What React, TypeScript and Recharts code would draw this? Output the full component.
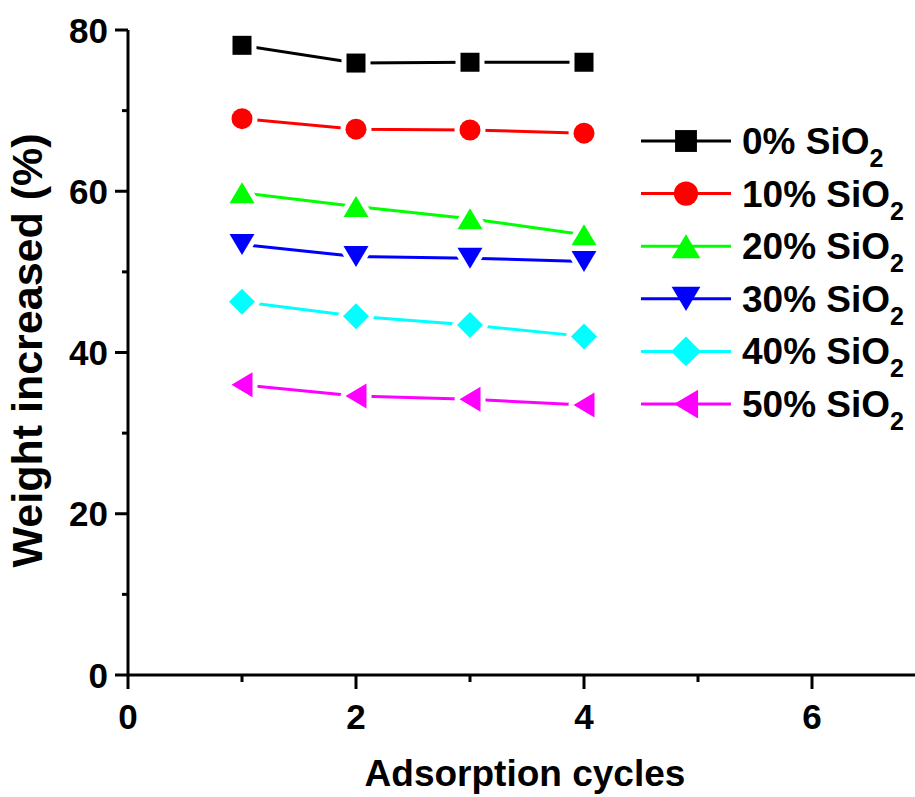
import React from "react";
import { LineChart, Line, XAxis, YAxis } from "recharts";

// adsorption cycle number
const cycles = [1, 2, 3, 4];

// weight increase (%) per SiO2 content
const sio2_0 = [78.1, 75.9, 76.0, 76.0];
const sio2_10 = [69.0, 67.7, 67.6, 67.2];
const sio2_20 = [59.8, 58.1, 56.6, 54.6];
const sio2_30 = [53.4, 51.9, 51.7, 51.3];
const sio2_40 = [46.3, 44.5, 43.4, 42.0];
const sio2_50 = [36.0, 34.6, 34.2, 33.5];

const xTicks = [0, 1, 2, 3, 4, 5, 6, 7];
const yTicks = [0, 10, 20, 30, 40, 50, 60, 70, 80];

const FONT = "Arial, 'Liberation Sans', Helvetica, sans-serif";

type Kind = "square" | "circle" | "up" | "down" | "diamond" | "left";

const series: { key: string; label: string; color: string; kind: Kind; values: number[] }[] = [
  { key: "s0", label: "0% SiO", color: "#000000", kind: "square", values: sio2_0 },
  { key: "s10", label: "10% SiO", color: "#FF0000", kind: "circle", values: sio2_10 },
  { key: "s20", label: "20% SiO", color: "#00FF00", kind: "up", values: sio2_20 },
  { key: "s30", label: "30% SiO", color: "#0000FF", kind: "down", values: sio2_30 },
  { key: "s40", label: "40% SiO", color: "#00FFFF", kind: "diamond", values: sio2_40 },
  { key: "s50", label: "50% SiO", color: "#FF00FF", kind: "left", values: sio2_50 },
];

const rows = cycles.map((c, i) => {
  const r: Record<string, number> = { cycle: c };
  series.forEach((s) => (r[s.key] = s.values[i]));
  return r;
});

function Marker({ kind, cx, cy, fill, scale = 1, halo = 0 }: {
  kind: Kind; cx: number; cy: number; fill: string; scale?: number; halo?: number;
}) {
  const sp = { fill, stroke: halo ? fill : "none", strokeWidth: halo, strokeLinejoin: "round" as const };
  if (kind === "square") {
    const s = 19 * scale;
    return <rect x={cx - s / 2} y={cy - s / 2} width={s} height={s} {...sp} />;
  }
  if (kind === "circle") return <circle cx={cx} cy={cy} r={10.5 * scale} {...sp} />;
  let pts: number[][] = [];
  if (kind === "up") {
    const w = 25 * scale, h = 21 * scale;
    pts = [[cx, cy - h / 2], [cx - w / 2, cy + h / 2], [cx + w / 2, cy + h / 2]];
  } else if (kind === "down") {
    const w = 25 * scale, h = 21 * scale;
    pts = [[cx, cy + h / 2], [cx - w / 2, cy - h / 2], [cx + w / 2, cy - h / 2]];
  } else if (kind === "diamond") {
    const d = 13 * scale;
    pts = [[cx, cy - d], [cx + d, cy], [cx, cy + d], [cx - d, cy]];
  } else {
    const w = 21 * scale, h = 25 * scale;
    pts = [[cx - w / 2, cy], [cx + w / 2, cy - h / 2], [cx + w / 2, cy + h / 2]];
  }
  return <polygon points={pts.map((p) => p.join(",")).join(" ")} {...sp} />;
}

const YTick = ({ x, y, payload }: any) => {
  const major = payload.value % 20 === 0;
  return (
    <g>
      <line x1={x - (major ? 13 : 6)} x2={x} y1={y} y2={y} stroke="#000" strokeWidth={3} />
      {major && (
        <text x={x - 20} y={y} textAnchor="end" dominantBaseline="central"
          fontFamily={FONT} fontWeight="bold" fontSize={35} fill="#000">
          {payload.value}
        </text>
      )}
    </g>
  );
};

const XTick = ({ x, y, payload }: any) => {
  const major = payload.value % 2 === 0;
  return (
    <g>
      <line x1={x} x2={x} y1={y} y2={y + (major ? 14 : 7)} stroke="#000" strokeWidth={3} />
      {major && (
        <text x={x} y={y + 41} textAnchor="middle" dominantBaseline="central"
          fontFamily={FONT} fontWeight="bold" fontSize={35} fill="#000">
          {payload.value}
        </text>
      )}
    </g>
  );
};

const TopTick = ({ x, y }: any) => (
  <line x1={x} x2={x} y1={y - 3} y2={y} stroke="#000" strokeWidth={2} />
);

// legend drawn over the chart, top-left corner at (641, 115) of the page
function LegendBox() {
  const rowH = 52.6;
  return (
    <svg width={275} height={rowH * 6 + 10} style={{ position: "absolute", left: 641, top: 115 }}>
      {series.map((s, i) => {
        const cy = 26 + i * rowH;
        return (
          <g key={s.key}>
            <line x1={0} x2={90} y1={cy} y2={cy} stroke={s.color} strokeWidth={3} />
            <Marker kind={s.kind} cx={45} cy={cy} fill={s.color} scale={1.15} />
            <text x={101} y={cy + 13} fontFamily={FONT} fontWeight="bold" fontSize={37} fill="#000">
              {s.label}
              <tspan dy={13} fontSize={25}>2</tspan>
            </text>
          </g>
        );
      })}
    </svg>
  );
}

const YLabel = ({ viewBox }: any) => {
  const cx = viewBox.x + 42;
  const cy = viewBox.y + viewBox.height / 2 - 2;
  return (
    <text x={cx} y={cy} transform={`rotate(-90 ${cx} ${cy})`} textAnchor="middle"
      fontFamily={FONT} fontWeight="bold" fontSize={43} fill="#000">
      Weight increased (%)
    </text>
  );
};

const XLabel = ({ viewBox }: any) => {
  const cx = 525;
  const cy = viewBox.y + 111;
  return (
    <text x={cx} y={cy} textAnchor="middle"
      fontFamily={FONT} fontWeight="bold" fontSize={37} fill="#000">
      Adsorption cycles
    </text>
  );
};

export default function App() {
  // fixed to the viewport so the plot can run past the right edge, as in the figure
  return (
    <div style={{ position: "fixed", left: 0, top: 0, width: 915, height: 797, overflow: "hidden", background: "#fff" }}>
      <LineChart width={940} height={797} data={rows} margin={{ top: 30, right: 14, bottom: 22, left: 0 }}>
        <XAxis
          dataKey="cycle"
          type="number"
          domain={[0, 7]}
          ticks={xTicks}
          interval={0}
          height={100}
          tickSize={0}
          tickMargin={0}
          tickLine={false}
          tick={<XTick />}
          axisLine={{ stroke: "#000", strokeWidth: 3 }}
          label={<XLabel />}
        />
        <XAxis
          xAxisId="top"
          dataKey="cycle"
          type="number"
          orientation="top"
          domain={[0, 7]}
          ticks={xTicks}
          interval={0}
          height={0}
          tickSize={0}
          tickMargin={0}
          tickLine={false}
          tick={<TopTick />}
          axisLine={{ stroke: "#000", strokeWidth: 3 }}
        />
        <YAxis
          type="number"
          domain={[0, 80]}
          ticks={yTicks}
          interval={0}
          width={128}
          tickSize={0}
          tickMargin={0}
          tickLine={false}
          tick={<YTick />}
          axisLine={{ stroke: "#000", strokeWidth: 3 }}
          label={<YLabel />}
        />
        {series.map((s) => (
          <Line
            key={s.key}
            dataKey={s.key}
            name={s.label}
            type="linear"
            stroke={s.color}
            strokeWidth={3}
            isAnimationActive={false}
            activeDot={false}
            dot={(p: any) => (
              <g key={`${s.key}-${p.index}`}>
                <Marker kind={s.kind} cx={p.cx} cy={p.cy} fill="#fff" halo={10} />
                <Marker kind={s.kind} cx={p.cx} cy={p.cy} fill={s.color} />
              </g>
            )}
          />
        ))}
      </LineChart>
      <LegendBox />
    </div>
  );
}
